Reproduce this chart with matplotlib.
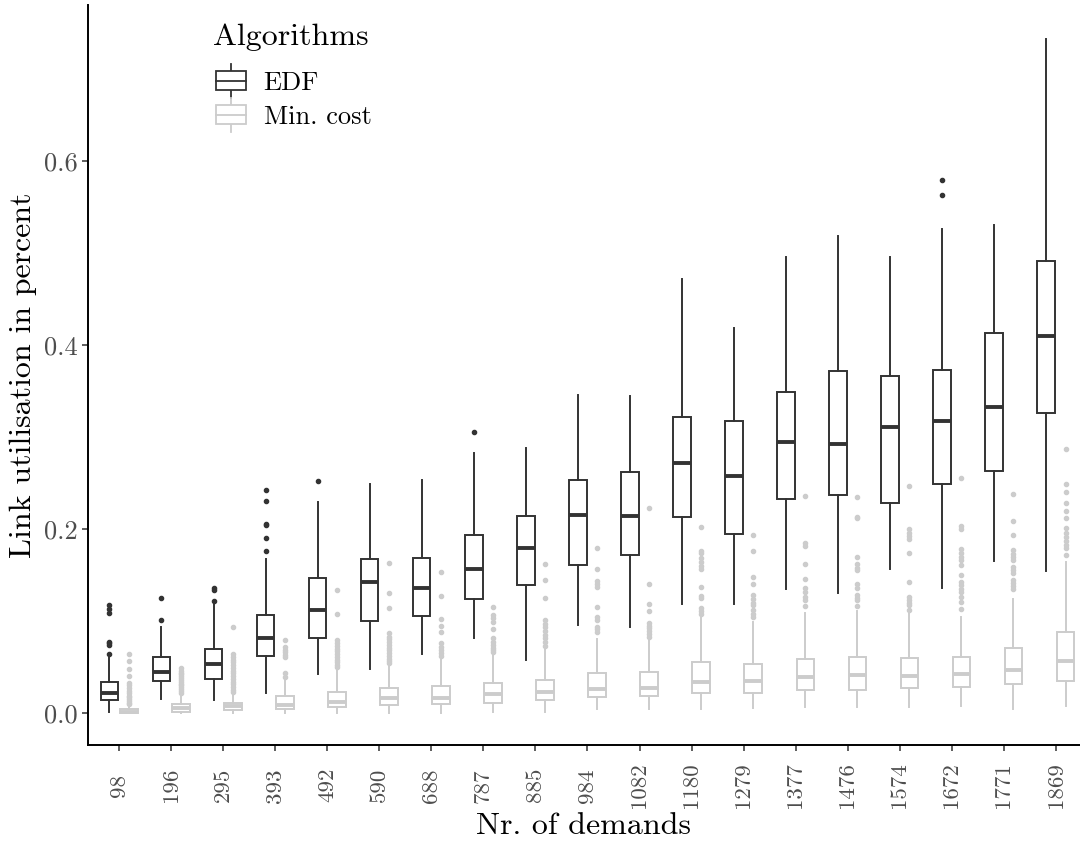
import matplotlib
matplotlib.use("Agg")
import matplotlib.pyplot as plt
from matplotlib.legend_handler import HandlerBase
from matplotlib.patches import Rectangle
from matplotlib.lines import Line2D

plt.rcParams['font.family'] = ['cmr10', 'DejaVu Serif']
plt.rcParams['axes.formatter.use_mathtext'] = True

# categories
demands = [98, 196, 295, 393, 492, 590, 688, 787, 885, 984, 1082, 1180,
           1279, 1377, 1476, 1574, 1672, 1771, 1869]

# EDF box statistics
edf_lo = [0.0014, 0.0152, 0.0141, 0.0214, 0.0428, 0.0475, 0.0641, 0.0819, 0.0576, 0.096,
          0.0935, 0.1188, 0.1188, 0.1348, 0.1304, 0.1569, 0.1362, 0.1649, 0.1543]
edf_q1 = [0.0138, 0.0344, 0.0366, 0.0623, 0.0819, 0.1003, 0.1058, 0.1239, 0.1395, 0.1609,
          0.1714, 0.2127, 0.1946, 0.2322, 0.2366, 0.2286, 0.2489, 0.263, 0.3257]
edf_med = [0.022, 0.0449, 0.0533, 0.0819, 0.1123, 0.1427, 0.1359, 0.1569, 0.179, 0.2149,
           0.2141, 0.2717, 0.258, 0.2949, 0.2928, 0.3109, 0.317, 0.3322, 0.4101]
edf_q3 = [0.034, 0.0609, 0.070, 0.1069, 0.1467, 0.1677, 0.1685, 0.1931, 0.2145, 0.2533,
          0.2623, 0.3217, 0.3174, 0.3493, 0.3721, 0.3667, 0.3728, 0.4127, 0.4917]
edf_hi = [0.061, 0.093, 0.119, 0.1674, 0.229, 0.2486, 0.2536, 0.2826, 0.2877, 0.3453,
          0.3442, 0.4714, 0.4181, 0.4953, 0.5185, 0.4953, 0.526, 0.530, 0.7322]
edf_out = [
    [0.1174, 0.113, 0.109, 0.0775, 0.0757, 0.0739, 0.0638],
    [0.1247, 0.1007],
    [0.1355, 0.1337, 0.122],
    [0.2428, 0.2304, 0.2058, 0.2047, 0.1902, 0.1757],
    [0.2518],
    [], [],
    [0.3054],
    [], [], [], [], [], [], [], [],
    [0.579, 0.563],
    [], [],
]

# Min. cost box statistics
mc_lo = [0.0, 0.0, 0.0, 0.0, 0.0, 0.0003, 0.0, 0.0014, 0.0014, 0.004,
         0.004, 0.0043, 0.0051, 0.0062, 0.0069, 0.0069, 0.0079, 0.0047, 0.0079]
mc_q1 = [0.0005, 0.0011, 0.0033, 0.0045, 0.0069, 0.0087, 0.0094, 0.0112, 0.0138, 0.017,
         0.0185, 0.0214, 0.0214, 0.025, 0.0246, 0.0275, 0.0286, 0.0319, 0.0351]
mc_med = [0.0015, 0.0054, 0.0076, 0.009, 0.0118, 0.016, 0.016, 0.021, 0.0228, 0.0257,
          0.0272, 0.0333, 0.0351, 0.0388, 0.0409, 0.0402, 0.0427, 0.0464, 0.0569]
mc_q3 = [0.0038, 0.0094, 0.0105, 0.0188, 0.0232, 0.0268, 0.0293, 0.0322, 0.0359, 0.0438,
         0.0449, 0.0554, 0.0533, 0.0587, 0.0605, 0.0594, 0.0612, 0.0707, 0.0877]
mc_hi = [0.0085, 0.021, 0.021, 0.038, 0.0467, 0.052, 0.0594, 0.0649, 0.0703, 0.080,
         0.081, 0.1047, 0.0989, 0.109, 0.1112, 0.109, 0.104, 0.1243, 0.1645]
mc_out = [
    [0.064, 0.056, 0.0475, 0.040, 0.033, 0.030, 0.027, 0.024, 0.022, 0.019, 0.017, 0.015, 0.013, 0.011, 0.0095],
    [0.049, 0.046, 0.044, 0.042, 0.040, 0.038, 0.036, 0.034, 0.032, 0.030, 0.028, 0.026, 0.024, 0.022],
    [0.093, 0.064, 0.061, 0.058, 0.055, 0.052, 0.049, 0.046, 0.043, 0.040, 0.037, 0.034, 0.031, 0.028, 0.025, 0.023],
    [0.079, 0.072, 0.069, 0.066, 0.063, 0.061, 0.043, 0.0395],
    [0.134, 0.108, 0.079, 0.076, 0.073, 0.070, 0.067, 0.064, 0.061, 0.058, 0.055, 0.052, 0.050],
    [0.1634, 0.130, 0.114, 0.0866, 0.083, 0.080, 0.077, 0.074, 0.071, 0.068, 0.065, 0.062, 0.059, 0.056, 0.054],
    [0.153, 0.1275, 0.102, 0.095, 0.088, 0.0757, 0.072, 0.068, 0.065, 0.062],
    [0.115, 0.1065, 0.103, 0.099, 0.091, 0.0819, 0.0775, 0.074, 0.071, 0.068, 0.066],
    [0.162, 0.1446, 0.1254, 0.101, 0.097, 0.093, 0.089, 0.085, 0.081, 0.077, 0.073],
    [0.1797, 0.157, 0.1438, 0.140, 0.1366, 0.1156, 0.1047, 0.101, 0.094, 0.091, 0.0884],
    [0.2232, 0.140, 0.119, 0.111, 0.098, 0.095, 0.092, 0.089, 0.086, 0.083],
    [0.2025, 0.176, 0.1736, 0.168, 0.164, 0.160, 0.156, 0.1366, 0.127, 0.1246, 0.1138, 0.111, 0.108],
    [0.1938, 0.176, 0.1475, 0.140, 0.128, 0.124, 0.120, 0.117, 0.112, 0.108, 0.104],
    [0.2355, 0.1844, 0.181, 0.1616, 0.1453, 0.1355, 0.132, 0.126, 0.123, 0.1166],
    [0.2348, 0.2134, 0.2116, 0.170, 0.162, 0.158, 0.155, 0.140, 0.1355, 0.128, 0.125, 0.123, 0.1166],
    [0.247, 0.1997, 0.196, 0.192, 0.189, 0.1736, 0.1424, 0.1264, 0.123, 0.120, 0.1174, 0.112],
    [0.2558, 0.2036, 0.1997, 0.178, 0.174, 0.170, 0.166, 0.161, 0.150, 0.1427, 0.139, 0.135, 0.131, 0.1264, 0.121, 0.113],
    [0.2384, 0.2083, 0.194, 0.177, 0.173, 0.170, 0.166, 0.159, 0.155, 0.152, 0.1446, 0.141, 0.1375, 0.1345],
    [0.2866, 0.249, 0.2406, 0.2286, 0.2196, 0.212, 0.2007, 0.1953, 0.191, 0.187, 0.183, 0.179, 0.1717],
]

edf_color = '#333333'
mc_color = '#cccccc'


def make_stats(lo, q1, med, q3, hi, out):
    return [dict(whislo=a, q1=b, med=c, q3=d, whishi=e, fliers=f)
            for a, b, c, d, e, f in zip(lo, q1, med, q3, hi, out)]


def draw_boxes(ax, stats, positions, color):
    ax.bxp(stats, positions=positions, widths=0.34, showcaps=False,
           patch_artist=True,
           boxprops=dict(facecolor='white', edgecolor=color, linewidth=1.4),
           whiskerprops=dict(color=color, linewidth=1.4),
           medianprops=dict(color=color, linewidth=2.8, solid_capstyle='butt'),
           flierprops=dict(marker='o', markersize=3.0, markerfacecolor=color,
                           markeredgecolor=color, linestyle='none'))


class BoxKeyHandler(HandlerBase):
    # boxplot glyph for the legend keys
    def create_artists(self, legend, orig_handle, xdescent, ydescent,
                       width, height, fontsize, trans):
        c = orig_handle.get_edgecolor()
        x0, y0 = -xdescent, -ydescent
        bx, bw = x0, width
        by, bh = y0 + 0.22 * height, 0.56 * height
        xm = x0 + width / 2
        arts = [
            Line2D([xm, xm], [y0, by], color=c, lw=1.3, transform=trans),
            Line2D([xm, xm], [by + bh, y0 + height], color=c, lw=1.3, transform=trans),
            Rectangle((bx, by), bw, bh, facecolor='white', edgecolor=c, lw=1.3, transform=trans),
            Line2D([bx, bx + bw], [by + bh / 2, by + bh / 2], color=c, lw=1.3, transform=trans),
        ]
        return arts


fig = plt.figure(figsize=(10.8, 8.42), dpi=100)
ax = fig.add_axes([88 / 1080, 1 - 745 / 842, 992 / 1080, 740 / 842])

pos = list(range(1, len(demands) + 1))
draw_boxes(ax, make_stats(edf_lo, edf_q1, edf_med, edf_q3, edf_hi, edf_out),
           [p - 0.1875 for p in pos], edf_color)
draw_boxes(ax, make_stats(mc_lo, mc_q1, mc_med, mc_q3, mc_hi, mc_out),
           [p + 0.1875 for p in pos], mc_color)

ax.set_xlim(0.4, 0.4 + 992 / 52.03)
ax.set_ylim(-0.0348, 0.7696)
ax.set_xticks(pos)
ax.set_xticklabels([str(d) for d in demands], rotation=90, fontsize=16.5,
                   color='#4d4d4d', va='center', ha='center')
ax.set_yticks([0.0, 0.2, 0.4, 0.6])
ax.set_yticklabels(['0.0', '0.2', '0.4', '0.6'], fontsize=19, color='#4d4d4d')
ax.tick_params(axis='both', length=4, width=1.1, color='#333333')
ax.tick_params(axis='x', pad=25)
for s in ['top', 'right']:
    ax.spines[s].set_visible(False)
for s in ['left', 'bottom']:
    ax.spines[s].set_linewidth(1.4)
    ax.spines[s].set_color('black')

ax.set_xlabel('Nr. of demands', fontsize=23, labelpad=3)
ax.set_ylabel('Link utilisation in percent', fontsize=23, labelpad=5)

# legend: title as separate text, keys below it
fig.text(213 / 1080, 1 - 45 / 842, 'Algorithms', fontsize=23, ha='left', va='baseline')
handles = [Rectangle((0, 0), 1, 1, edgecolor=edf_color, facecolor='white'),
           Rectangle((0, 0), 1, 1, edgecolor=mc_color, facecolor='white')]
leg = ax.legend(handles, ['EDF', 'Min. cost'],
                handler_map={Rectangle: BoxKeyHandler()},
                loc='upper left', bbox_to_anchor=(216 / 1080, 1 - 64 / 842),
                bbox_transform=fig.transFigure, frameon=False,
                fontsize=19, handlelength=1.15, handleheight=1.6,
                handletextpad=0.65, labelspacing=0.0, borderpad=0,
                borderaxespad=0)

fig.savefig('out.png', dpi=100)
